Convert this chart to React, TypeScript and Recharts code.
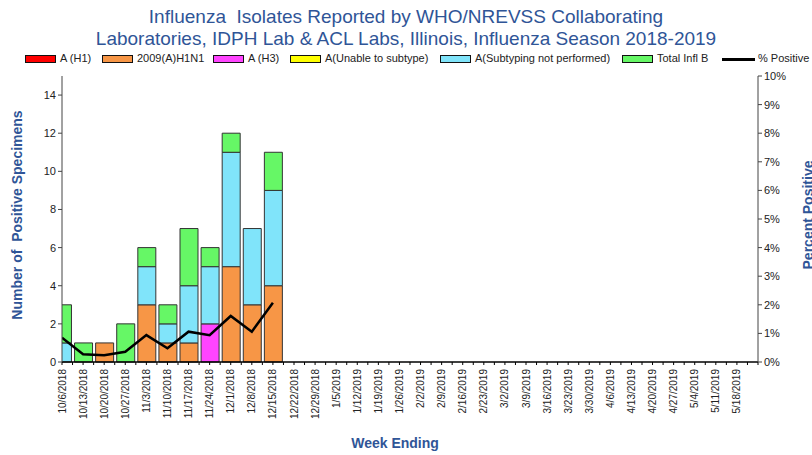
import React from 'react';
import {
  ComposedChart,
  Bar,
  Line,
  XAxis,
  YAxis,
} from 'recharts';

const weeks = [
  '10/6/2018', '10/13/2018', '10/20/2018', '10/27/2018', '11/3/2018', '11/10/2018',
  '11/17/2018', '11/24/2018', '12/1/2018', '12/8/2018', '12/15/2018', '12/22/2018',
  '12/29/2018', '1/5/2019', '1/12/2019', '1/19/2019', '1/26/2019', '2/2/2019',
  '2/9/2019', '2/16/2019', '2/23/2019', '3/2/2019', '3/9/2019', '3/16/2019',
  '3/23/2019', '3/30/2019', '4/6/2019', '4/13/2019', '4/20/2019', '4/27/2019',
  '5/4/2019', '5/11/2019', '5/18/2019',
];

// reported weeks only; the rest of the season is empty
const h1 = [0, 0, 0, 0, 0, 0, 0, 0, 0, 0, 0];
const h1n1 = [0, 0, 1, 0, 3, 1, 1, 0, 5, 3, 4];
const h3 = [0, 0, 0, 0, 0, 0, 0, 2, 0, 0, 0];
const unable = [0, 0, 0, 0, 0, 0, 0, 0, 0, 0, 0];
const notPerformed = [1, 0, 0, 0, 2, 1, 3, 3, 6, 4, 5];
const fluB = [2, 1, 0, 2, 1, 1, 3, 1, 1, 0, 2];
const pctPositive = [0.85, 0.27, 0.24, 0.36, 0.94, 0.48, 1.06, 0.94, 1.61, 1.06, 2.07];

const leftTicks = [0, 2, 4, 6, 8, 10, 12, 14];
const rightTicks = [0, 1, 2, 3, 4, 5, 6, 7, 8, 9, 10];

const series = [
  { key: 'h1', name: 'A (H1)', color: '#FF0000', values: h1 },
  { key: 'h1n1', name: '2009(A)H1N1', color: '#F79646', values: h1n1 },
  { key: 'h3', name: 'A (H3)', color: '#FF44FF', values: h3 },
  { key: 'unable', name: 'A(Unable to subtype)', color: '#FFFF00', values: unable },
  { key: 'notPerformed', name: 'A(Subtyping not performed)', color: '#80E4FA', values: notPerformed },
  { key: 'fluB', name: 'Total Infl B', color: '#66F766', values: fluB },
];

const data = weeks.map((week, i) => {
  const row: any = { idx: i, week };
  series.forEach((s) => {
    row[s.key] = i < s.values.length ? s.values[i] : null;
  });
  row.pct = i < pctPositive.length ? pctPositive[i] : null;
  return row;
});

const xTicks: number[] = [];
for (let i = 0; i <= 66; i++) xTicks.push(i / 2);

const FONT = '"Liberation Sans", Arial, sans-serif';
const BLUE = '#2F5597';

function WeekTick(props: any) {
  const { x, y, payload } = props;
  const v = payload.value;
  if (!Number.isInteger(v) || v >= weeks.length) return null;
  return (
    <g transform={`translate(${x},${y + 2}) rotate(-90)`}>
      <text textAnchor="end" dy={3.5} fontSize={10} fill="#222" fontFamily={FONT}>
        {weeks[v]}
      </text>
    </g>
  );
}

// legend swatch x positions, one per series
const legendX = [25, 102, 213, 290, 440, 622];

function Legend() {
  return (
    <>
      {series.map((s, i) => (
        <div key={s.key}>
          <div
            style={{
              position: 'absolute', left: legendX[i], top: 55, width: 29, height: 6,
              background: s.color, border: '1.5px solid #111',
            }}
          />
          <div
            style={{
              position: 'absolute', left: legendX[i] + 35, top: 52, fontSize: 11,
              fontFamily: FONT, color: '#222', whiteSpace: 'nowrap',
            }}
          >
            {s.name}
          </div>
        </div>
      ))}
      <div style={{ position: 'absolute', left: 722, top: 58, width: 33, height: 3, background: '#000' }} />
      <div
        style={{
          position: 'absolute', left: 758, top: 52, fontSize: 11, fontFamily: FONT,
          color: '#222', whiteSpace: 'nowrap',
        }}
      >
        % Positive
      </div>
    </>
  );
}

export default function App() {
  return (
    <div style={{ position: 'absolute', left: 0, top: 0, width: 812, height: 455, background: '#fff', overflow: 'hidden' }}>
      <div
        style={{
          position: 'absolute', left: 0, top: 6, width: 812, textAlign: 'center',
          fontFamily: FONT, fontSize: 19, lineHeight: '22px', color: BLUE,
        }}
      >
        Influenza&nbsp; Isolates Reported by WHO/NREVSS Collaborating
        <br />
        Laboratories, IDPH Lab &amp; ACL Labs, Illinois, Influenza Season 2018-2019
      </div>
      <Legend />
      <div style={{ position: 'absolute', left: 0, top: 0 }}>
        <ComposedChart
          width={812}
          height={455}
          data={data}
          margin={{ top: 76, right: 14, left: 22, bottom: 23 }}
        >
          <XAxis
            xAxisId="x"
            dataKey="idx"
            type="number"
            domain={[0, 33]}
            ticks={xTicks}
            interval={0}
            allowDataOverflow
            tick={<WeekTick />}
            tickSize={3}
            height={70}
            stroke="#000"
            axisLine={{ stroke: '#000', strokeWidth: 1.5 }}
          />
          <YAxis
            yAxisId="left"
            domain={[0, 15]}
            ticks={leftTicks}
            interval={0}
            width={40}
            tickSize={4}
            stroke="#444"
            tick={{ fill: '#222', fontSize: 11, fontFamily: FONT }}
          />
          <YAxis
            yAxisId="right"
            orientation="right"
            domain={[0, 10]}
            ticks={rightTicks}
            interval={0}
            width={40}
            tickSize={4}
            stroke="#444"
            tickFormatter={(v) => `${v}%`}
            tick={{ fill: '#222', fontSize: 11, fontFamily: FONT }}
          />
          {series.map((s) => (
            <Bar
              key={s.key}
              xAxisId="x"
              yAxisId="left"
              dataKey={s.key}
              stackId="a"
              fill={s.color}
              stroke="#333"
              strokeWidth={1}
              barSize={18}
              isAnimationActive={false}
            />
          ))}
          <Line
            xAxisId="x"
            yAxisId="right"
            dataKey="pct"
            type="linear"
            stroke="#000"
            strokeWidth={2.5}
            dot={false}
            activeDot={false}
            connectNulls={false}
            isAnimationActive={false}
          />
          <text
            transform="translate(22,215) rotate(-90)"
            textAnchor="middle"
            fontSize={14}
            fontWeight="bold"
            fill={BLUE}
            fontFamily={FONT}
          >
            Number of&nbsp; Positive Specimens
          </text>
          <text
            transform="translate(813,215) rotate(-90)"
            textAnchor="middle"
            fontSize={14}
            fontWeight="bold"
            fill={BLUE}
            fontFamily={FONT}
          >
            Percent Positive
          </text>
          <text
            x={395}
            y={448}
            textAnchor="middle"
            fontSize={14}
            fontWeight="bold"
            fill={BLUE}
            fontFamily={FONT}
          >
            Week Ending
          </text>
        </ComposedChart>
      </div>
    </div>
  );
}
